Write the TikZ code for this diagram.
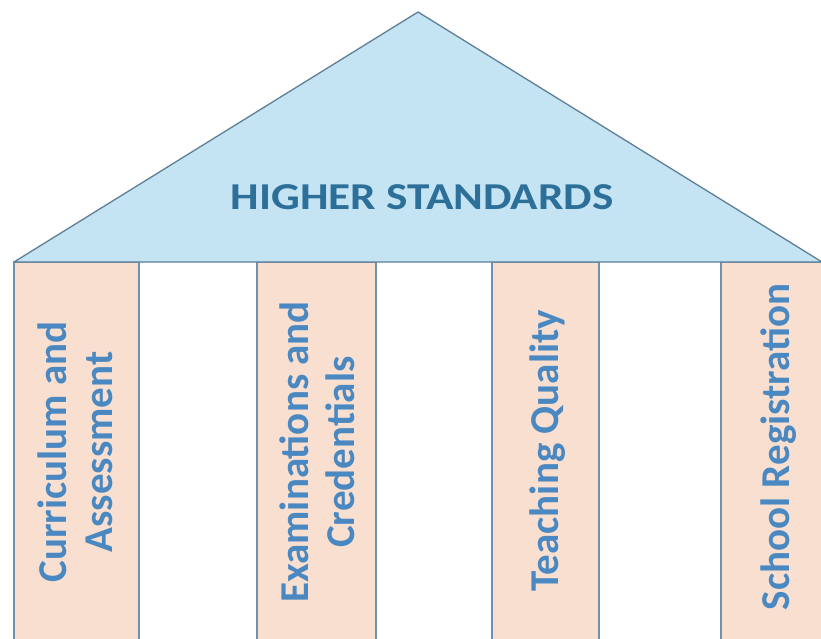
\documentclass[tikz,border=0pt]{standalone}
\usepackage{fontspec}
\setmainfont{Carlito}
\definecolor{roofblue}{HTML}{C4E3F3}
\definecolor{roofline}{HTML}{5E7F96}
\definecolor{peach}{HTML}{F9DFCF}
\definecolor{pillarline}{HTML}{7090AC}
\definecolor{titleblue}{HTML}{2C6F98}
\definecolor{textblue}{HTML}{4A88C2}
\begin{document}
\begin{tikzpicture}[x=1pt,y=-1pt,
  pillar/.style={fill=peach,draw=pillarline,line width=1.3pt},
  pillartext/.style={rotate=90,text=textblue,font=\fontsize{41}{46}\selectfont\bfseries,align=center,inner sep=0pt},
  rooftext/.style={text=titleblue,font=\fontsize{38}{42}\selectfont\bfseries,inner sep=0pt}]
\useasboundingbox (0,0) rectangle (821,639);
\clip (0,0) rectangle (821,639);
\fill[white] (0,0) rectangle (821,639);
% pillars
\draw[pillar] (14,262) rectangle (139,645);
\draw[pillar] (257,262) rectangle (376,645);
\draw[pillar] (492,262) rectangle (599,645);
\draw[pillar] (721,262) rectangle (840,645);
% roof
\coordinate (left) at (14,262);
\coordinate (apex) at (418,12);
\coordinate (right) at (822,262);
\draw[fill=roofblue,draw=roofline,line width=1.3pt,line join=round] (left) -- (apex) -- (right) -- cycle;
\node[rooftext,xscale=1.19] (title) at (422,197) {HIGHER STANDARDS};
% pillar labels
\node[pillartext] (p1) at (75,452) {Curriculum and\\Assessment};
\node[pillartext] (p2) at (317,452) {Examinations and\\Credentials};
\node[pillartext] (p3) at (548,451) {Teaching Quality};
\node[pillartext] (p4) at (779,447) {School Registration};
\end{tikzpicture}
\end{document}
